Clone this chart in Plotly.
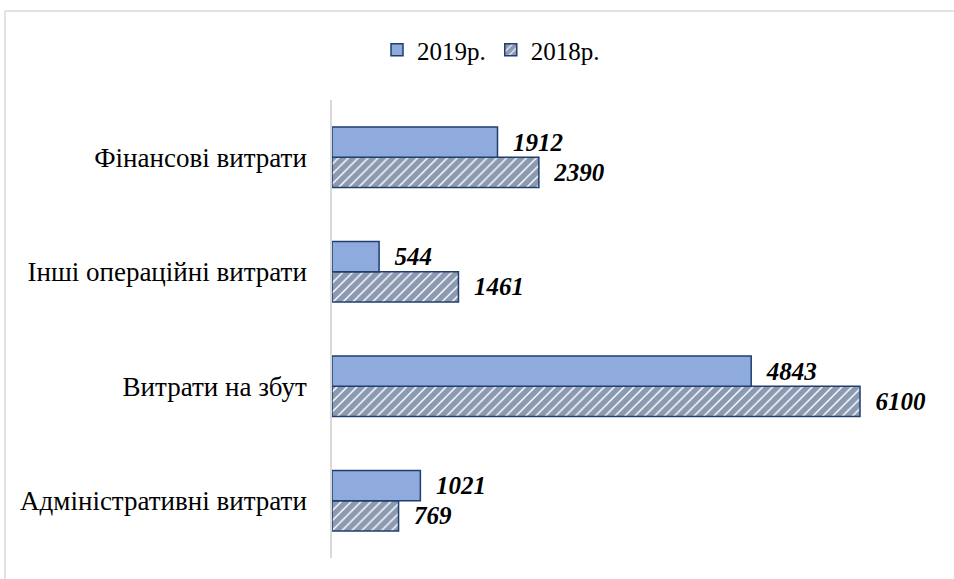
import plotly.graph_objects as go

categories = ["Адміністративні витрати", "Витрати на збут", "Інші операційні витрати", "Фінансові витрати"]
values_2019 = [1021, 4843, 544, 1912]
values_2018 = [769, 6100, 1461, 2390]
series_names = ["2019р.", "2018р."]

W, H = 954, 579
L, R, T, B = 332, 0, 100, 21
pw = W - L - R
ph = H - T - B
xmax = 6100 * pw / 528.0

serif = "Liberation Serif, Times New Roman, serif"
edge = "#1F3F6E"
hatch = "#173563"
label_font = dict(family=serif, size=25, color="black", weight="bold", style="italic")

fig = go.Figure()
fig.add_trace(go.Bar(
    y=categories, x=values_2018, orientation="h", name=series_names[1],
    marker=dict(color="white", line=dict(color=edge, width=1.5),
                pattern=dict(shape="/", fgcolor=hatch, bgcolor="white", size=7, solidity=0.8)),
    text=[f"  {v}" for v in values_2018], textposition="outside", cliponaxis=False,
    textfont=label_font, legendrank=2,
))
fig.add_trace(go.Bar(
    y=categories, x=values_2019, orientation="h", name=series_names[0],
    marker=dict(color="#8FAADC", line=dict(color=edge, width=1.5)),
    text=[f"  {v}" for v in values_2019], textposition="outside", cliponaxis=False,
    textfont=label_font, legendrank=1,
))

fig.update_layout(
    width=W, height=H,
    margin=dict(l=L, r=R, t=T, b=B),
    barmode="group", bargap=0.47, bargroupgap=0,
    plot_bgcolor="white", paper_bgcolor="white",
    font=dict(family=serif, size=20, color="black"),
    legend=dict(orientation="h", x=(491 - L) / pw, xanchor="center",
                y=(H - 50 - B) / ph, yanchor="middle",
                font=dict(family=serif, size=25, color="black"),
                itemwidth=30, traceorder="normal"),
    xaxis=dict(range=[0, xmax], showgrid=False, showticklabels=False, zeroline=False, showline=False),
    yaxis=dict(showgrid=False, showline=True, linecolor="#D9D9D9", linewidth=1.5,
               ticks="", ticklabelstandoff=18,
               tickfont=dict(family=serif, size=27, color="black")),
    uniformtext=dict(mode=False),
)

# outer chart border (left and top edges visible)
bx0 = (5 - L) / pw
by1 = (H - 11 - B) / ph
fig.add_shape(type="line", xref="paper", yref="paper", x0=bx0, x1=1.05, y0=by1, y1=by1,
              line=dict(color="#D9D9D9", width=1.5))
fig.add_shape(type="line", xref="paper", yref="paper", x0=bx0, x1=bx0, y0=by1, y1=-0.1,
              line=dict(color="#D9D9D9", width=1.5))

fig.write_html("out.html", config={"displayModeBar": False},
               post_script="document.body.style.margin='0';")
